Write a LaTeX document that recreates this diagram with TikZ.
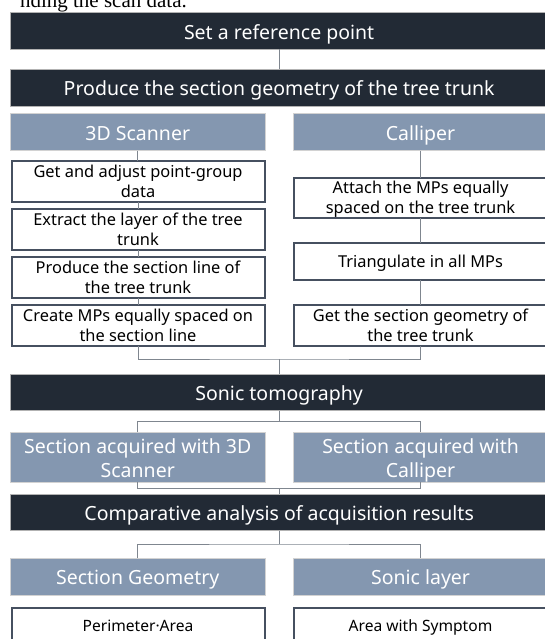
\documentclass[tikz,border=0pt]{standalone}
\usepackage{fontspec}
\setmainfont{Noto Sans}
\newfontfamily\capfont{Liberation Serif}
\definecolor{darkbox}{HTML}{222A35}
\definecolor{lightbox}{HTML}{8497B0}
\definecolor{wborder}{HTML}{465060}
\definecolor{conn}{HTML}{7F868F}
% struts for vertical placement of text lines
\newcommand\onestrut{\rule[-0.25em]{0pt}{1.35em}}
\newcommand\wonestrut{\rule[-0.25em]{0pt}{1.25em}}
\newcommand\bigtop{\rule{0pt}{1.1em}}
\newcommand\smalltop{\rule{0pt}{1.0em}}
\newcommand\lastdepth{\rule[-0.25em]{0pt}{0.25em}}
\begin{document}
\begin{tikzpicture}[x=1pt,y=-1pt,
  bigtext/.style={font=\fontsize{19.5}{23.5}\selectfont},
  smalltext/.style={font=\fontsize{#1}{20}\selectfont},
  darkstyle/.style={fill=darkbox, draw=gray!60, line width=0.6pt, text=white,
    bigtext, inner sep=0pt, outer sep=0pt,
    minimum width=537.3pt, minimum height=37pt, align=center},
  lightstyle/.style={fill=lightbox, draw=gray!35, line width=0.6pt, text=white,
    bigtext, inner sep=0pt, outer sep=0pt,
    minimum width=254.5pt, align=center},
  whitestyle/.style={fill=white, draw=wborder, line width=2pt, text=black,
    smalltext=16.4, inner sep=0pt, outer sep=0pt,
    minimum width=253pt, align=center},
  link/.style={draw=conn, line width=1pt}]
\useasboundingbox (0,0) rectangle (545,639);
\clip (0,0) rectangle (545,639);
\fill[white] (0,0) rectangle (545,639);

% caption fragment
\node[anchor=base east, font=\capfont\fontsize{21}{21}\selectfont, inner sep=0pt] (cap) at (187,8) {nding the scan data.};

% top dark boxes
\node[darkstyle] (ref) at (279.15,30.8) {\onestrut Set a reference point};
\node[darkstyle] (prod) at (279.15,87.5) {\onestrut Produce the section geometry of the tree trunk};

% method headers
\node[lightstyle, minimum height=37.4pt] (scan) at (137.75,132) {\onestrut 3D Scanner};
\node[lightstyle, minimum height=37.4pt] (cal) at (420.55,132) {\onestrut Calliper};

% left column steps
\node[whitestyle, minimum height=35.3pt] (w1) at (138,181.35) {\smalltop Get and adjust point-group\\\lastdepth data};
\node[whitestyle, minimum height=37pt] (w2) at (138,229.5) {\smalltop Extract the layer of the tree\\\lastdepth trunk};
\node[whitestyle, minimum height=36.4pt] (w3) at (138,277.5) {\smalltop Produce the section line of\\\lastdepth the tree trunk};
\node[whitestyle, minimum height=36.5pt] (w4) at (138,325.25) {\smalltop Create MPs equally spaced on\\\lastdepth the section line};

% right column steps
\node[whitestyle, minimum height=37pt] (c1) at (420.55,197.8) {\smalltop Attach the MPs equally\\\lastdepth spaced on the tree trunk};
\node[whitestyle, minimum height=36.4pt] (c2) at (420.55,261.5) {\wonestrut Triangulate in all MPs};
\node[whitestyle, minimum height=36.5pt] (c3) at (420.55,325.25) {\smalltop Get the section geometry of\\\lastdepth the tree trunk};

% sonic tomography
\node[darkstyle, minimum height=36.7pt] (sonic) at (279.15,392.35) {\onestrut Sonic tomography};

% sections
\node[lightstyle, minimum height=49.4pt] (s1) at (137.75,457) {\bigtop Section acquired with 3D\\\lastdepth Scanner};
\node[lightstyle, minimum height=49.4pt] (s2) at (420.55,457) {\bigtop Section acquired with\\\lastdepth Calliper};

% comparative
\node[darkstyle, minimum height=36.7pt] (comp) at (279.15,512.35) {\onestrut Comparative analysis of acquisition results};

% results
\node[lightstyle, minimum height=36.7pt] (geo) at (137.75,576.65) {\onestrut Section Geometry};
\node[lightstyle, minimum height=36.7pt] (lay) at (420.55,576.65) {\onestrut Sonic layer};

\node[whitestyle, minimum height=37pt, smalltext=15.6] (pa) at (138,626) {\wonestrut Perimeter·Area};
\node[whitestyle, minimum height=37pt, smalltext=15.6] (as) at (420.55,626) {\wonestrut Area with Symptom};

% connectors
\draw[link] (ref.south) -- (prod.north);
\draw[link] (scan.south) -- (scan.south |- w1.north);
\draw[link] (w1) -- (w2);
\draw[link] (w2) -- (w3);
\draw[link] (w3) -- (w4);
\draw[link] (cal.south) -- (c1.north);
\draw[link] (c1) -- (c2);
\draw[link] (c2) -- (c3);

\coordinate (m1) at (279.15,359);
\draw[link] (w4.south) |- (m1) -| (c3.south);
\draw[link] (m1) -- (m1 |- sonic.north);

\coordinate (m2) at (279.15,421.7);
\draw[link] (sonic.south) -- (m2);
\draw[link] (s1.north) |- (m2) -| (s2.north);

\coordinate (m3) at (279.15,488.3);
\draw[link] (s1.south) |- (m3) -| (s2.south);
\draw[link] (m3) -- (m3 |- comp.north);

\coordinate (m4) at (279.15,544);
\draw[link] (comp.south) -- (m4);
\draw[link] (geo.north) |- (m4) -| (lay.north);
\end{tikzpicture}
\end{document}
